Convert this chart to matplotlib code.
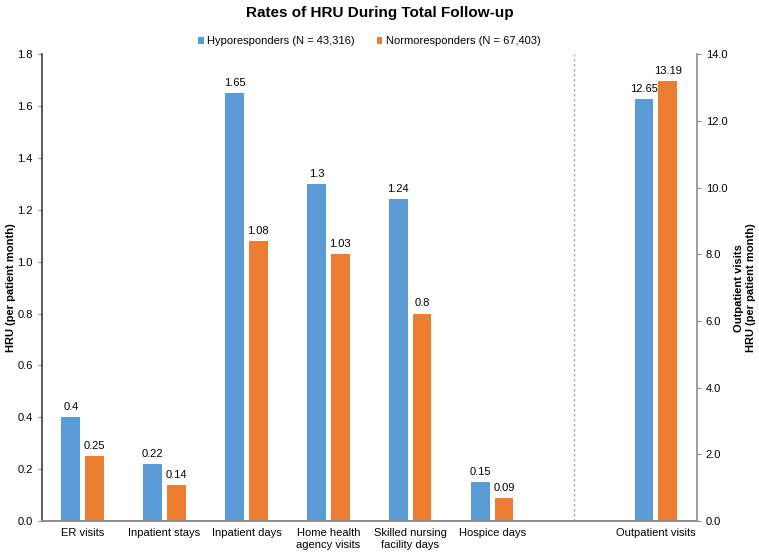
import matplotlib.pyplot as plt
import numpy as np

plt.rcParams["font.family"] = ["Liberation Sans", "DejaVu Sans"]

categories = ["ER visits", "Inpatient stays", "Inpatient days",
              "Home health\nagency visits", "Skilled nursing\nfacility days",
              "Hospice days"]
hypo = [0.40, 0.22, 1.65, 1.30, 1.24, 0.15]
normo = [0.25, 0.14, 1.08, 1.03, 0.80, 0.09]

outpatient_label = "Outpatient visits"
outpatient_hypo = 12.65
outpatient_normo = 13.19

blue = "#5B9BD5"
orange = "#ED7D31"
grey = "#8C8C8C"

fig = plt.figure(figsize=(7.59, 5.52), dpi=100)
ax = fig.add_axes([0.055, 0.056, 0.863, 0.846])
ax2 = ax.twinx()

x = np.arange(len(categories))
w = 0.23
off = 0.145

b1 = ax.bar(x - off, hypo, w, color=blue, label="Hyporesponders (N = 43,316)")
b2 = ax.bar(x + off, normo, w, color=orange, label="Normoresponders (N = 67,403)")
for xi, v in zip(x - off, hypo):
    ax.text(xi, v + 0.02, f"{v:g}", ha="center", va="bottom", fontsize=8)
for xi, v in zip(x + off, normo):
    ax.text(xi, v + 0.02, f"{v:g}", ha="center", va="bottom", fontsize=8)

xo = len(categories) + 1
ax2.bar(xo - off, outpatient_hypo, w, color=blue)
ax2.bar(xo + off, outpatient_normo, w, color=orange)
ax2.text(xo - off, outpatient_hypo + 0.15, f"{outpatient_hypo:g}", ha="center", va="bottom", fontsize=8)
ax2.text(xo + off, outpatient_normo + 0.15, f"{outpatient_normo:g}", ha="center", va="bottom", fontsize=8)

ax.axvline(len(categories), color="#A6A6A6", linestyle=(0, (2, 2)), linewidth=0.9)

ax.set_xlim(-0.5, xo + 0.5)
ax.set_ylim(0, 1.8)
ax.set_yticks(np.arange(0, 1.81, 0.2))
ax.set_yticklabels([f"{t:.1f}" for t in np.arange(0, 1.81, 0.2)])
ax2.set_ylim(0, 14)
ax2.set_yticks(np.arange(0, 14.1, 2))
ax2.set_yticklabels([f"{t:.1f}" for t in np.arange(0, 14.1, 2)])

ax.set_xticks(list(x) + [xo])
ax.set_xticklabels(categories + [outpatient_label])

for a in (ax, ax2):
    a.spines["top"].set_visible(False)
    a.tick_params(axis="both", labelsize=8, color=grey, length=3)
    for s in ("left", "right", "bottom"):
        a.spines[s].set_color(grey)
        a.spines[s].set_linewidth(1.2)
ax.spines["right"].set_visible(False)
ax2.spines["left"].set_visible(False)
ax.spines["left"].set_color("#404040")
ax.tick_params(axis="x", length=0, pad=5)

ax.set_ylabel("HRU (per patient month)", fontsize=8, fontweight="bold")
ax.yaxis.set_label_coords(-0.04, 0.5)
ax2.set_ylabel("Outpatient visits\nHRU (per patient month)", fontsize=8,
               fontweight="bold", rotation=90, labelpad=5)

fig.suptitle("Rates of HRU During Total Follow-up", fontsize=11, fontweight="bold", y=0.99)
ax.legend(handles=[b1, b2], loc="center", bbox_to_anchor=(0.5, 1.027), ncol=2,
          frameon=False, fontsize=8, handlelength=0.5, handleheight=0.5, columnspacing=2.0,
          handletextpad=0.3)

fig.savefig("out.png", dpi=100)
